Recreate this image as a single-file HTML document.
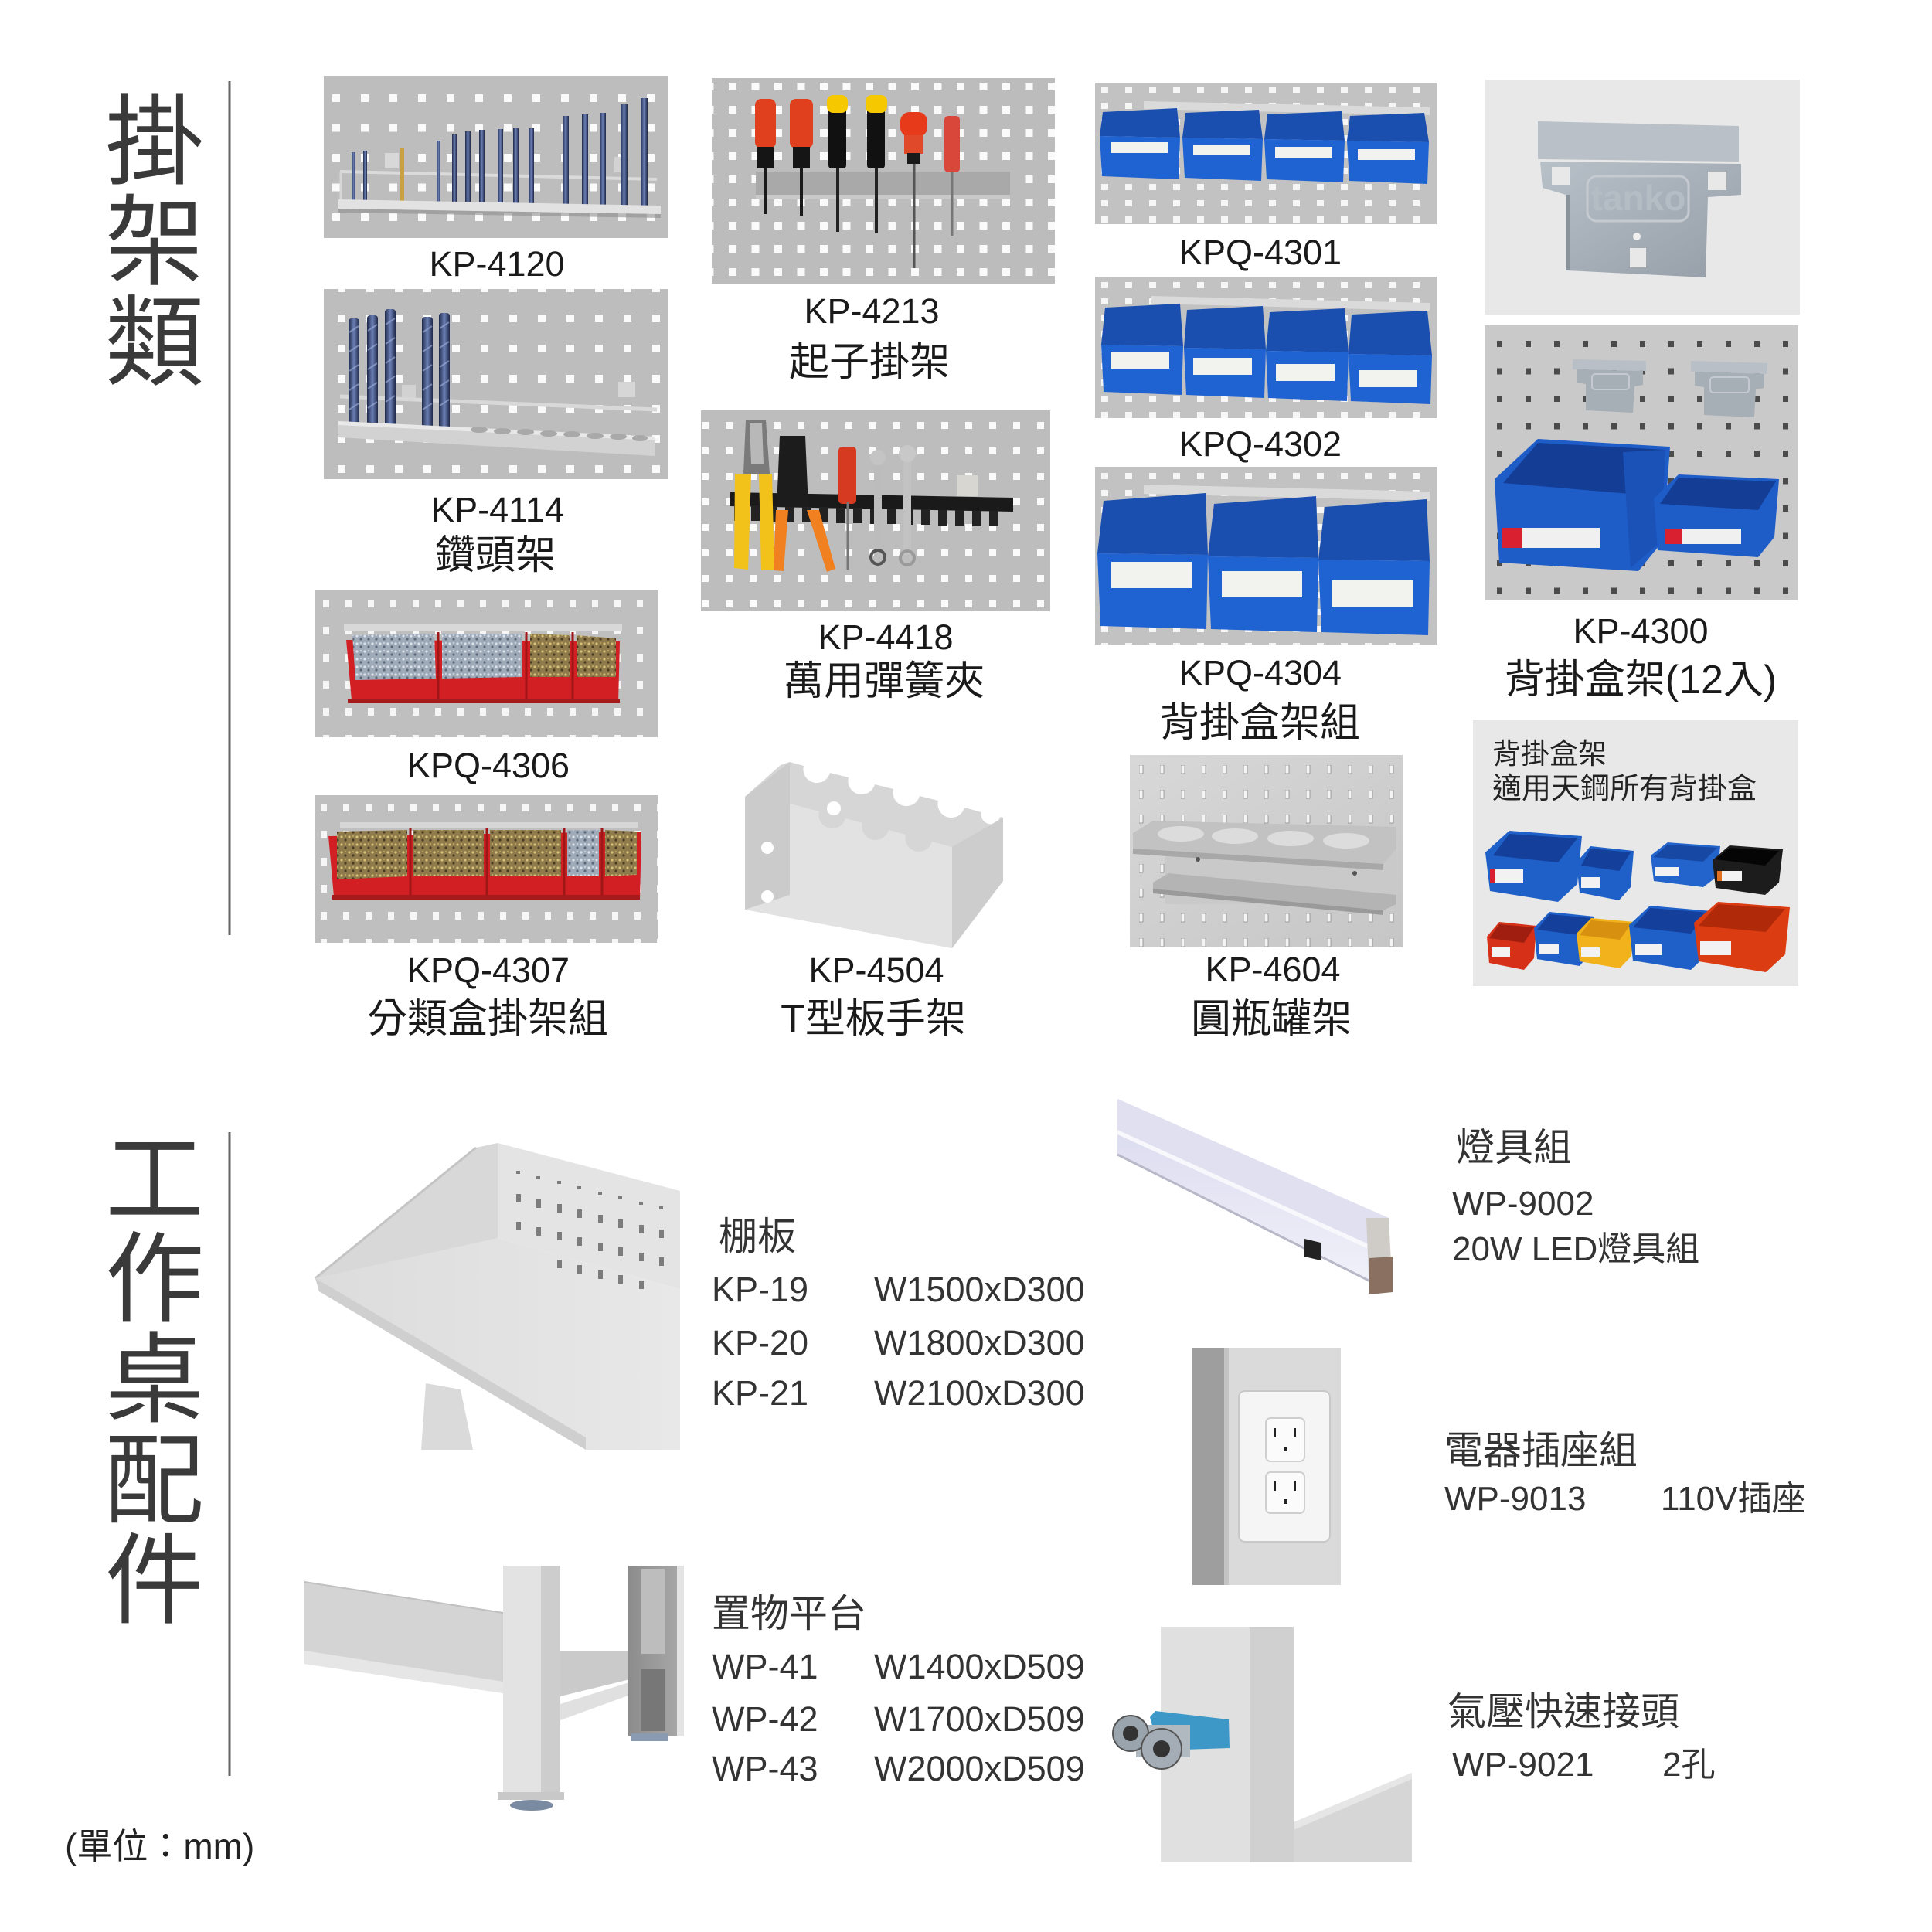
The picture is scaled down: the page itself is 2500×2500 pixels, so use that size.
<!DOCTYPE html>
<html><head><meta charset="utf-8"><style>
html,body{margin:0;padding:0;background:#fff;}
svg{display:block;}
text{font-family:"Liberation Sans","Noto Sans CJK TC",sans-serif;}
</style></head><body>
<svg xmlns="http://www.w3.org/2000/svg" width="2500" height="2500" viewBox="0 0 2500 2500">
<defs>
<pattern id="pA1" patternUnits="userSpaceOnUse" x="430" y="122" width="37" height="38.5"><rect width="10" height="10" fill="#fafafa"/></pattern>
<pattern id="pA2" patternUnits="userSpaceOnUse" x="437" y="407" width="37" height="39"><rect width="10" height="10" fill="#fafafa"/></pattern>
<pattern id="pB1" patternUnits="userSpaceOnUse" x="418" y="776" width="29" height="35"><rect width="8" height="10" fill="#f6f6f6"/></pattern>
<pattern id="pB2" patternUnits="userSpaceOnUse" x="415" y="1040" width="29" height="35"><rect width="8" height="10" fill="#f6f6f6"/></pattern>
<pattern id="pC" patternUnits="userSpaceOnUse" x="943" y="107" width="29.5" height="30"><rect width="10" height="10" fill="#fafafa"/></pattern>
<pattern id="pD" patternUnits="userSpaceOnUse" x="939" y="546" width="31" height="33"><rect width="9" height="9" fill="#fafafa"/></pattern>
<pattern id="pE1" patternUnits="userSpaceOnUse" x="1425" y="112" width="31" height="21"><rect width="9" height="8" fill="#f6f6f6"/></pattern>
<pattern id="pE2" patternUnits="userSpaceOnUse" x="1425" y="365" width="31" height="21"><rect width="9" height="8" fill="#f6f6f6"/></pattern>
<pattern id="pE3" patternUnits="userSpaceOnUse" x="1425" y="612" width="31" height="22"><rect width="9" height="8" fill="#f6f6f6"/></pattern>
<pattern id="pF" patternUnits="userSpaceOnUse" x="1937" y="441" width="37" height="35.5"><rect width="7" height="8" fill="#4b4b4b"/></pattern>
<pattern id="pG" patternUnits="userSpaceOnUse" x="1474" y="990" width="27" height="32"><rect width="5" height="11" fill="#f4f4f4" stroke="#8a8a8a" stroke-width="0.8"/></pattern>
<pattern id="silver" patternUnits="userSpaceOnUse" width="10" height="10"><rect width="10" height="10" fill="#9eaab8"/><circle cx="2" cy="3" r="1.6" fill="#dde3ea"/><circle cx="7" cy="7" r="1.6" fill="#5d6878"/><circle cx="7" cy="2" r="1.2" fill="#c8d0da"/></pattern>
<pattern id="gold" patternUnits="userSpaceOnUse" width="10" height="10"><rect width="10" height="10" fill="#8e7a4a"/><circle cx="2" cy="3" r="1.6" fill="#d6c27a"/><circle cx="7" cy="7" r="1.6" fill="#4a3b22"/><circle cx="7" cy="2" r="1.2" fill="#b8a060"/></pattern>
<linearGradient id="drill" x1="0" x2="1" y1="0" y2="0"><stop offset="0" stop-color="#1d2848"/><stop offset=".5" stop-color="#6c7fb5"/><stop offset="1" stop-color="#1d2848"/></linearGradient>
<linearGradient id="metal" x1="0" x2="1" y1="0" y2="1"><stop offset="0" stop-color="#b8c0c8"/><stop offset="1" stop-color="#959ea8"/></linearGradient>
<linearGradient id="g4604" x1="0" x2="1" y1="0" y2="1"><stop offset="0" stop-color="#d8d8d8"/><stop offset="1" stop-color="#c6c6c6"/></linearGradient>
<linearGradient id="shelfTop" x1="0" x2="1" y1="0" y2="0"><stop offset="0" stop-color="#dcdcdc"/><stop offset="1" stop-color="#e8e8e8"/></linearGradient>
<linearGradient id="led" x1="0" x2="0" y1="0" y2="1"><stop offset="0" stop-color="#d8d8ee"/><stop offset="1" stop-color="#f2f2fa"/></linearGradient>
<linearGradient id="darkpost" x1="0" x2="1" y1="0" y2="0"><stop offset="0" stop-color="#8c8c8c"/><stop offset="1" stop-color="#a8a8a8"/></linearGradient>
</defs>
<rect width="2500" height="2500" fill="#fff"/>

<!-- Titles -->
<g font-size="128" fill="#3a3a3a" text-anchor="middle">
<text x="200" y="228">掛</text>
<text x="200" y="358">架</text>
<text x="200" y="488">類</text>
<text x="200" y="1571">工</text>
<text x="200" y="1700">作</text>
<text x="200" y="1830">桌</text>
<text x="200" y="1960">配</text>
<text x="200" y="2090">件</text>
</g>
<line x1="297" y1="105" x2="297" y2="1210" stroke="#666" stroke-width="3"/>
<line x1="297" y1="1465" x2="297" y2="2298" stroke="#666" stroke-width="3"/>
<text x="84" y="2405" font-size="46" fill="#222">(單位：mm)</text>

<!-- KP-4120 -->
<rect x="419" y="98" width="445" height="210" fill="#bdbdbd"/>
<rect x="419" y="98" width="445" height="210" fill="url(#pA1)"/>
<rect x="498" y="198" width="18" height="20" fill="#d8d8d8"/>
<rect x="795" y="203" width="18" height="20" fill="#d2d2d2"/>
<line x1="440" y1="222" x2="850" y2="232" stroke="#dadada" stroke-width="4"/>
<line x1="441" y1="222" x2="441" y2="262" stroke="#d6d6d6" stroke-width="3"/>
<g fill="url(#drill)">
<rect x="455" y="197" width="5" height="66"/><rect x="470" y="195" width="5" height="68"/>
<rect x="518" y="192" width="5" height="71" fill="#c8a040"/>
<rect x="565" y="182" width="5" height="81"/><rect x="585" y="174" width="6" height="90"/>
<rect x="602" y="170" width="7" height="94"/><rect x="620" y="168" width="7" height="96"/>
<rect x="644" y="167" width="7" height="97"/><rect x="664" y="166" width="7" height="98"/>
<rect x="684" y="166" width="7" height="98"/><rect x="728" y="150" width="8" height="116"/>
<rect x="753" y="148" width="8" height="118"/><rect x="776" y="146" width="8" height="120"/>
<rect x="803" y="135" width="9" height="131"/><rect x="829" y="127" width="9" height="139"/>
</g>
<polygon points="438,258 855,266 855,277 438,270" fill="#e2e2e2"/>
<polygon points="438,270 855,277 855,282 438,275" fill="#8e8e8e" opacity="0.6"/>

<!-- KP-4114 -->
<rect x="419" y="374" width="445" height="246" fill="#bdbdbd"/>
<rect x="419" y="374" width="445" height="246" fill="url(#pA2)"/>
<rect x="800" y="494" width="22" height="20" fill="#d6d6d6"/>
<rect x="520" y="498" width="18" height="20" fill="#d2d2d2"/>
<line x1="440" y1="513" x2="850" y2="530" stroke="#d8d8d8" stroke-width="5"/>
<g fill="url(#drill)">
<rect x="451" y="412" width="14" height="143" rx="4"/><rect x="475" y="408" width="14" height="147" rx="4"/>
<rect x="498" y="400" width="14" height="155" rx="4"/><rect x="546" y="410" width="14" height="145" rx="4"/>
<rect x="568" y="405" width="14" height="150" rx="4"/>
</g>
<g stroke="#9fb2dc" stroke-width="2" opacity="0.6">
<path d="M452,430 l12,-8 M452,455 l12,-8 M452,480 l12,-8 M452,505 l12,-8 M452,530 l12,-8"/>
<path d="M476,428 l12,-8 M476,453 l12,-8 M476,478 l12,-8 M476,503 l12,-8 M476,528 l12,-8"/>
<path d="M499,420 l12,-8 M499,445 l12,-8 M499,470 l12,-8 M499,495 l12,-8 M499,520 l12,-8"/>
<path d="M547,430 l12,-8 M547,455 l12,-8 M547,480 l12,-8 M547,505 l12,-8 M547,530 l12,-8"/>
<path d="M569,425 l12,-8 M569,450 l12,-8 M569,475 l12,-8 M569,500 l12,-8 M569,525 l12,-8"/>
</g>
<polygon points="438,545 847,565 847,590 438,566" fill="#d2d2d2"/>
<polygon points="438,545 847,565 847,570 438,550" fill="#e8e8e8"/>
<g fill="#a9a9a9">
<ellipse cx="620" cy="556" rx="11" ry="4"/><ellipse cx="650" cy="558" rx="11" ry="4"/><ellipse cx="680" cy="559" rx="11" ry="4"/><ellipse cx="710" cy="561" rx="11" ry="4"/><ellipse cx="740" cy="562" rx="11" ry="4"/><ellipse cx="770" cy="564" rx="11" ry="4"/><ellipse cx="800" cy="565" rx="11" ry="4"/><ellipse cx="828" cy="567" rx="10" ry="4"/>
</g>

<!-- KPQ-4306 -->
<rect x="408" y="764" width="443" height="190" fill="#bfbfbf"/>
<rect x="408" y="764" width="443" height="190" fill="url(#pB1)"/>
<rect x="445" y="808" width="360" height="8" fill="#d8d8d8"/>
<polygon points="448,828 455,906 800,910 802,830" fill="#d21f24"/>
<polygon points="456,822 562,820 564,878 460,880" fill="url(#silver)"/>
<polygon points="572,820 676,820 676,876 572,878" fill="url(#silver)"/>
<polygon points="686,820 737,822 737,876 686,876" fill="url(#gold)"/>
<polygon points="746,822 797,826 797,876 746,876" fill="url(#gold)"/>
<g stroke="#9e1616" stroke-width="3"><line x1="567" y1="818" x2="567" y2="908"/><line x1="681" y1="818" x2="681" y2="908"/><line x1="741" y1="818" x2="741" y2="909"/></g>
<rect x="450" y="904" width="352" height="6" fill="#a51b1b"/>

<!-- KPQ-4307 -->
<rect x="408" y="1029" width="443" height="191" fill="#bfbfbf"/>
<rect x="408" y="1029" width="443" height="191" fill="url(#pB2)"/>
<rect x="440" y="1064" width="385" height="7" fill="#d6d6d6"/>
<polygon points="425,1082 432,1160 828,1164 830,1076" fill="#d21f24"/>
<polygon points="436,1076 527,1074 527,1134 436,1138" fill="url(#gold)"/>
<polygon points="535,1074 626,1074 626,1134 535,1134" fill="url(#gold)"/>
<polygon points="634,1074 726,1074 726,1134 634,1134" fill="url(#gold)"/>
<polygon points="734,1074 775,1074 775,1134 734,1134" fill="url(#silver)"/>
<polygon points="783,1074 824,1076 824,1132 783,1134" fill="url(#gold)"/>
<g stroke="#9e1616" stroke-width="3"><line x1="531" y1="1072" x2="531" y2="1162"/><line x1="630" y1="1072" x2="630" y2="1163"/><line x1="730" y1="1072" x2="730" y2="1163"/><line x1="779" y1="1072" x2="779" y2="1164"/></g>
<rect x="430" y="1158" width="398" height="6" fill="#a51b1b"/>

<!-- KP-4213 -->
<rect x="921" y="101" width="444" height="266" fill="#bcbcbc"/>
<rect x="921" y="101" width="444" height="266" fill="url(#pC)"/>
<rect x="978" y="222" width="329" height="32" fill="#a9a9a9"/>
<rect x="978" y="252" width="329" height="6" fill="#c9c9c9"/>
<g>
<line x1="990" y1="215" x2="990" y2="277" stroke="#1a1a1a" stroke-width="4"/>
<rect x="977" y="128" width="27" height="64" rx="8" fill="#e0401e"/>
<rect x="980" y="190" width="21" height="28" fill="#151515"/>
<line x1="1037" y1="215" x2="1037" y2="279" stroke="#1a1a1a" stroke-width="4"/>
<rect x="1022" y="128" width="30" height="64" rx="8" fill="#e0401e"/>
<rect x="1026" y="190" width="22" height="28" fill="#151515"/>
<line x1="1084" y1="215" x2="1084" y2="300" stroke="#222" stroke-width="4"/>
<rect x="1072" y="140" width="23" height="78" rx="4" fill="#111"/>
<rect x="1070" y="123" width="27" height="23" rx="8" fill="#f5c800"/>
<line x1="1134" y1="215" x2="1134" y2="302" stroke="#222" stroke-width="4"/>
<rect x="1122" y="140" width="23" height="78" rx="4" fill="#111"/>
<rect x="1120" y="123" width="28" height="23" rx="8" fill="#f5c800"/>
<line x1="1183" y1="210" x2="1183" y2="347" stroke="#555" stroke-width="3"/>
<rect x="1165" y="145" width="35" height="32" rx="12" fill="#e63a1a"/>
<rect x="1170" y="175" width="25" height="24" fill="#e04a2a"/>
<rect x="1174" y="198" width="17" height="14" fill="#1a1a1a"/>
<line x1="1232" y1="215" x2="1232" y2="305" stroke="#777" stroke-width="3"/>
<rect x="1222" y="150" width="20" height="73" rx="5" fill="#d9463a"/>
</g>

<!-- KP-4418 -->
<rect x="907" y="531" width="452" height="260" fill="#bdbdbd"/>
<rect x="907" y="531" width="452" height="260" fill="url(#pD)"/>
<rect x="1238" y="615" width="27" height="27" fill="#d8d6d0"/>
<polygon points="945,637 1311,644 1311,662 945,655" fill="#1a1a1a"/>
<g fill="#222">
<rect x="950" y="654" width="12" height="20"/><rect x="972" y="654" width="12" height="20"/><rect x="994" y="655" width="12" height="20"/><rect x="1016" y="655" width="12" height="20"/><rect x="1038" y="656" width="12" height="20"/><rect x="1060" y="656" width="12" height="20"/><rect x="1082" y="657" width="12" height="20"/><rect x="1104" y="657" width="12" height="20"/><rect x="1126" y="658" width="12" height="20"/><rect x="1148" y="658" width="12" height="20"/><rect x="1170" y="659" width="12" height="20"/><rect x="1192" y="659" width="12" height="20"/><rect x="1214" y="660" width="12" height="20"/><rect x="1236" y="660" width="12" height="20"/><rect x="1258" y="661" width="12" height="20"/><rect x="1280" y="661" width="12" height="20"/>
</g>
<polygon points="965,544 991,544 996,613 962,613" fill="#7a7a7a"/>
<polygon points="970,548 986,548 988,600 972,600" fill="#b8b8b8"/>
<polygon points="951,613 972,613 968,737 950,735" fill="#f2c21a"/>
<polygon points="982,613 999,613 1002,737 985,738" fill="#f2c21a"/>
<polygon points="1009,564 1042,564 1046,656 1005,656" fill="#1c1c1c"/>
<polygon points="1004,660 1020,660 1014,739 1001,738" fill="#f08020"/>
<polygon points="1044,660 1060,660 1081,736 1070,740" fill="#f08020"/>
<rect x="1085" y="578" width="23" height="74" rx="5" fill="#d63a20"/>
<line x1="1097" y1="650" x2="1097" y2="737" stroke="#777" stroke-width="3"/>
<rect x="1131" y="595" width="10" height="125" fill="#bcbcbc"/>
<circle cx="1136" cy="592" r="10" fill="#c4c4c4"/><circle cx="1136" cy="721" r="9" fill="none" stroke="#555" stroke-width="4"/>
<rect x="1169" y="588" width="10" height="130" fill="#c2c2c2"/>
<circle cx="1174" cy="587" r="11" fill="#c8c8c8"/><circle cx="1174" cy="722" r="9" fill="none" stroke="#9a9a9a" stroke-width="4"/>

<!-- KP-4504 -->
<path d="M964,1177 L964,1031 L1010,990 L1022,986 L1040,991 A17,17 0 0,0 1074,1000 L1098,1006 A17,17 0 0,0 1132,1015 L1156,1021 A17,17 0 0,0 1190,1030 L1214,1036 A17,17 0 0,0 1248,1045 L1270,1051 A12,12 0 0,0 1294,1057 L1298,1058 L1298,1140 L1232,1227 Z" fill="#d6d6d6"/>
<path d="M1022,1040 L1060,1050 A17,17 0 0,0 1094,1059 L1116,1065 A17,17 0 0,0 1150,1074 L1172,1080 A17,17 0 0,0 1206,1089 L1232,1096 L1232,1227 L964,1177 L1022,1158 Z" fill="#e2e2e2"/>
<polygon points="964,1031 1022,986 1022,1158 964,1177" fill="#cbcbcb"/>
<polygon points="1232,1096 1298,1058 1298,1140 1232,1227" fill="#cdcdcd"/>
<circle cx="1079" cy="1046" r="9" fill="#fff"/>
<circle cx="993" cy="1097" r="8" fill="#fff"/>
<circle cx="993" cy="1160" r="8" fill="#fff"/>

<!-- KPQ-4301 -->
<rect x="1417" y="107" width="442" height="183" fill="#c2c2c2"/>
<rect x="1417" y="107" width="442" height="183" fill="url(#pE1)"/>
<polygon points="1480,131 1850,139 1850,149 1480,141" fill="#dadada"/>
<g>
<polygon points="1427,145 1523,140 1527,178 1423,176" fill="#1a4fb0"/><polygon points="1423,176 1527,178 1525,232 1426,228" fill="#1f62d2"/><rect x="1437" y="184" width="74" height="14" fill="#f2f2ee"/>
<polygon points="1534,146 1629,142 1634,180 1530,178" fill="#1a4fb0"/><polygon points="1530,178 1634,180 1632,234 1533,230" fill="#1f62d2"/><rect x="1544" y="187" width="74" height="14" fill="#f2f2ee"/>
<polygon points="1640,148 1736,144 1740,182 1636,180" fill="#1a4fb0"/><polygon points="1636,180 1740,182 1738,236 1639,232" fill="#1f62d2"/><rect x="1650" y="190" width="74" height="14" fill="#f2f2ee"/>
<polygon points="1747,150 1843,146 1849,184 1743,182" fill="#1a4fb0"/><polygon points="1743,182 1849,184 1847,238 1746,234" fill="#1f62d2"/><rect x="1757" y="193" width="74" height="14" fill="#f2f2ee"/>
</g>

<!-- KPQ-4302 -->
<rect x="1417" y="358" width="442" height="183" fill="#c2c2c2"/>
<rect x="1417" y="358" width="442" height="183" fill="url(#pE2)"/>
<polygon points="1490,383 1850,392 1850,402 1490,393" fill="#dadada"/>
<g>
<polygon points="1430,398 1527,393 1531,448 1425,446" fill="#1a4fb0"/><polygon points="1425,446 1531,448 1529,511 1428,507" fill="#1f62d2"/><rect x="1437" y="455" width="76" height="22" fill="#f2f2ee"/>
<polygon points="1536,401 1634,396 1638,452 1532,450" fill="#1a4fb0"/><polygon points="1532,450 1638,452 1636,515 1535,511" fill="#1f62d2"/><rect x="1544" y="463" width="76" height="22" fill="#f2f2ee"/>
<polygon points="1643,404 1740,399 1745,456 1638,454" fill="#1a4fb0"/><polygon points="1638,454 1745,456 1743,519 1641,515" fill="#1f62d2"/><rect x="1651" y="471" width="76" height="22" fill="#f2f2ee"/>
<polygon points="1749,407 1847,402 1853,460 1745,458" fill="#1a4fb0"/><polygon points="1745,458 1853,460 1851,523 1748,519" fill="#1f62d2"/><rect x="1758" y="479" width="76" height="22" fill="#f2f2ee"/>
</g>

<!-- KPQ-4304 -->
<rect x="1417" y="604" width="442" height="230" fill="#c2c2c2"/>
<rect x="1417" y="604" width="442" height="230" fill="url(#pE3)"/>
<polygon points="1480,627 1850,636 1850,648 1480,639" fill="#dadada"/>
<g>
<polygon points="1428,648 1560,638 1563,718 1420,716" fill="#1a4fb0"/><polygon points="1420,716 1563,718 1561,814 1424,810" fill="#1f62d2"/><rect x="1438" y="727" width="104" height="34" fill="#f2f2ee"/>
<polygon points="1571,652 1703,642 1706,722 1563,720" fill="#1a4fb0"/><polygon points="1563,720 1706,722 1704,818 1567,814" fill="#1f62d2"/><rect x="1581" y="739" width="104" height="34" fill="#f2f2ee"/>
<polygon points="1714,656 1846,646 1850,726 1706,724" fill="#1a4fb0"/><polygon points="1706,724 1850,726 1848,822 1710,818" fill="#1f62d2"/><rect x="1724" y="751" width="104" height="34" fill="#f2f2ee"/>
</g>

<!-- KP-4604 -->
<rect x="1462" y="977" width="353" height="249" fill="url(#g4604)"/>
<rect x="1462" y="977" width="353" height="249" fill="url(#pG)"/>
<rect x="1508" y="1098" width="299" height="72" fill="#c9c9c9"/>
<polygon points="1466,1078 1492,1062 1807,1070 1807,1098 1790,1118 1466,1098" fill="#c2c2c2"/>
<g fill="#dcdcdc"><ellipse cx="1528" cy="1079" rx="30" ry="10"/><ellipse cx="1598" cy="1082" rx="30" ry="10"/><ellipse cx="1670" cy="1085" rx="30" ry="10"/><ellipse cx="1742" cy="1088" rx="30" ry="10"/></g>
<polygon points="1466,1098 1790,1118 1790,1126 1466,1105" fill="#a8a8a8"/>
<polygon points="1492,1142 1512,1130 1807,1158 1807,1170 1790,1178 1492,1150" fill="#b4b4b4"/>
<polygon points="1492,1150 1790,1178 1790,1184 1492,1156" fill="#9a9a9a"/>
<circle cx="1550" cy="1112" r="3" fill="#555"/><circle cx="1753" cy="1130" r="3" fill="#555"/>

<!-- Clip -->
<rect x="1921" y="103" width="408" height="304" fill="#e8e8e8"/>
<polygon points="1993,209 2253,212 2253,252 2210,255 2207,359 2026,350 2026,252 1996,243" fill="url(#metal)"/>
<polygon points="1990,157 2250,163 2250,209 1990,206" fill="#b9c0c7"/>
<rect x="2008" y="216" width="23" height="24" fill="#e8e8e8"/>
<rect x="2210" y="222" width="24" height="24" fill="#e8e8e8"/>
<rect x="2026" y="252" width="6" height="98" fill="#8a929a"/>
<rect x="2054" y="228" width="131" height="58" rx="12" fill="none" stroke="#c4cad0" stroke-width="3"/>
<text x="2120" y="272" font-size="46" font-weight="bold" fill="#b4bcc4" text-anchor="middle">tanko</text>
<circle cx="2118" cy="306" r="5" fill="#f0f0f0"/>
<rect x="2109" y="321" width="21" height="25" fill="#e8e8e8"/>

<!-- KP-4300 -->
<rect x="1921" y="421" width="406" height="356" fill="#c9c9c9"/>
<rect x="1921" y="421" width="406" height="356" fill="url(#pF)"/>
<polygon points="2035,465 2130,467 2130,480 2035,478" fill="#b8bfc6"/>
<polygon points="2040,478 2126,480 2126,498 2115,500 2113,534 2052,531 2052,497 2040,495" fill="#a6aeb6"/>
<rect x="2060" y="484" width="48" height="20" rx="4" fill="none" stroke="#c4cad0" stroke-width="2"/>
<polygon points="2188,467 2287,470 2287,484 2188,481" fill="#b8bfc6"/>
<polygon points="2193,481 2283,484 2283,502 2272,504 2270,540 2205,537 2205,501 2193,499" fill="#a6aeb6"/>
<rect x="2213" y="488" width="50" height="20" rx="4" fill="none" stroke="#c4cad0" stroke-width="2"/>
<polygon points="1934,620 1990,568 2161,578 2152,700 2120,739 1940,728" fill="#1e5cc8"/>
<polygon points="1990,573 2155,582 2120,640 1945,625" fill="#143e96"/>
<polygon points="2100,585 2155,582 2150,700 2110,735" fill="#1a52b8"/>
<rect x="1944" y="683" width="26" height="26" fill="#d82030"/>
<rect x="1970" y="683" width="100" height="26" fill="#f0f0f0"/>
<polygon points="2140,645 2172,614 2302,620 2296,695 2275,721 2145,712" fill="#1e5cc8"/>
<polygon points="2172,618 2298,623 2275,660 2148,652" fill="#143e96"/>
<rect x="2155" y="684" width="22" height="20" fill="#d82030"/>
<rect x="2177" y="684" width="76" height="20" fill="#f0f0f0"/>

<!-- Info box -->
<rect x="1906" y="932" width="421" height="344" fill="#e8e8e8"/>
<text x="1931" y="988" font-size="37" fill="#222">背掛盒架</text>
<text x="1931" y="1033" font-size="38" fill="#222">適用天鋼所有背掛盒</text>
<g>
<polygon points="1922,1103 1953,1075 2047,1082 2041,1144 2016,1167 1928,1153" fill="#1f5fc8"/>
<polygon points="1953,1079 2041,1085 2016,1116 1932,1107" fill="#143f9a"/>
<rect x="1928" y="1125" width="7" height="18" fill="#d82030"/><rect x="1935" y="1125" width="36" height="18" fill="#f2f2f2"/>
<polygon points="2040,1116 2058,1095 2114,1101 2110,1148 2095,1165 2044,1155" fill="#1f5fc8"/>
<polygon points="2058,1098 2110,1103 2095,1127 2046,1120" fill="#143f9a"/>
<rect x="2046" y="1135" width="24" height="14" fill="#f2f2f2"/>
<polygon points="2136,1107 2158,1090 2226,1095 2222,1134 2204,1148 2140,1140" fill="#2264cc"/>
<polygon points="2158,1093 2222,1097 2204,1115 2140,1109" fill="#1648a4"/>
<rect x="2142" y="1122" width="30" height="12" fill="#f2f2f2"/>
<polygon points="2216,1113 2238,1094 2307,1099 2302,1142 2284,1158 2220,1149" fill="#1c1c1c"/>
<polygon points="2238,1097 2302,1101 2284,1120 2220,1112" fill="#050505"/>
<rect x="2222" y="1127" width="6" height="13" fill="#e07020"/><rect x="2228" y="1127" width="26" height="13" fill="#f2f2f2"/>
<polygon points="1924,1212 1940,1193 1988,1198 1985,1240 1972,1255 1927,1246" fill="#d63018"/>
<polygon points="1940,1196 1985,1200 1972,1220 1927,1214" fill="#a01e10"/>
<rect x="1930" y="1226" width="24" height="12" fill="#f2f2f2"/>
<polygon points="1985,1201 2005,1180 2063,1186 2059,1232 2044,1250 1989,1241" fill="#1f5fc8"/>
<polygon points="2005,1183 2059,1188 2044,1210 1989,1203" fill="#143f9a"/>
<rect x="1991" y="1222" width="26" height="12" fill="#f2f2f2"/>
<polygon points="2040,1208 2059,1188 2115,1193 2111,1237 2096,1253 2044,1244" fill="#f2b21c"/>
<polygon points="2059,1191 2111,1195 2096,1216 2044,1210" fill="#d89010"/>
<rect x="2046" y="1226" width="24" height="12" fill="#f2f2f2"/>
<polygon points="2108,1197 2135,1172 2215,1179 2210,1234 2188,1255 2113,1243" fill="#1f5fc8"/>
<polygon points="2135,1175 2210,1181 2188,1208 2113,1200" fill="#143f9a"/>
<rect x="2116" y="1222" width="34" height="14" fill="#f2f2f2"/>
<polygon points="2192,1194 2223,1167 2316,1174 2310,1235 2285,1258 2198,1244" fill="#dc3c12"/>
<polygon points="2223,1170 2310,1176 2285,1206 2198,1198" fill="#b02a0a"/>
<rect x="2200" y="1218" width="40" height="18" fill="#f2f2f2"/>
</g>

<!-- Section 1 labels -->
<g font-size="45" fill="#1a1a1a" text-anchor="middle">
<text x="643" y="357">KP-4120</text>
<text x="644" y="675">KP-4114</text>
<text x="632" y="1006">KPQ-4306</text>
<text x="632" y="1271">KPQ-4307</text>
<text x="1128" y="418">KP-4213</text>
<text x="1146" y="840">KP-4418</text>
<text x="1134" y="1271">KP-4504</text>
<text x="1631" y="342">KPQ-4301</text>
<text x="1631" y="590">KPQ-4302</text>
<text x="1631" y="886">KPQ-4304</text>
<text x="1647" y="1270">KP-4604</text>
<text x="2123" y="832">KP-4300</text>
</g>
<g font-size="52" fill="#1a1a1a" text-anchor="middle">
<text x="641" y="736">鑽頭架</text>
<text x="631" y="1336">分類盒掛架組</text>
<text x="1125" y="486">起子掛架</text>
<text x="1144" y="899">萬用彈簧夾</text>
<text x="1130" y="1336">T型板手架</text>
<text x="1630" y="953">背掛盒架組</text>
<text x="1645" y="1336">圓瓶罐架</text>
<text x="2123" y="897">背掛盒架(12入)</text>
</g>

<!-- Shelf image -->
<polygon points="644,1479 880,1541 880,1668 644,1602" fill="#e4e4e4"/>
<polygon points="616,1485 644,1479 644,1602 413,1658 408,1654" fill="#d8d8d8"/>
<line x1="616" y1="1485" x2="408" y2="1654" stroke="#c4c4c4" stroke-width="3"/>
<polygon points="408,1654 644,1602 880,1668 880,1876 758,1876 413,1671" fill="url(#shelfTop)"/>
<polygon points="408,1654 758,1860 758,1876 413,1671" fill="#cfcfcf"/>
<polygon points="551,1790 596,1798 612,1876 545,1876" fill="#dadada"/>
<g fill="#7c7c7c">
<rect x="668" y="1515" width="5" height="4"/><rect x="694" y="1522" width="5" height="4"/><rect x="721" y="1528" width="5" height="4"/><rect x="747" y="1535" width="5" height="4"/><rect x="774" y="1542" width="5" height="4"/><rect x="800" y="1548" width="5" height="4"/><rect x="827" y="1555" width="5" height="4"/><rect x="853" y="1561" width="5" height="4"/>
<rect x="668" y="1545" width="6" height="11"/><rect x="694" y="1552" width="6" height="11"/><rect x="721" y="1558" width="6" height="11"/><rect x="747" y="1565" width="6" height="11"/><rect x="774" y="1572" width="6" height="11"/><rect x="800" y="1578" width="6" height="11"/><rect x="827" y="1585" width="6" height="11"/><rect x="853" y="1591" width="6" height="11"/>
<rect x="668" y="1581" width="6" height="11"/><rect x="694" y="1588" width="6" height="11"/><rect x="721" y="1594" width="6" height="11"/><rect x="747" y="1601" width="6" height="11"/><rect x="774" y="1608" width="6" height="11"/><rect x="800" y="1614" width="6" height="11"/><rect x="827" y="1621" width="6" height="11"/><rect x="853" y="1627" width="6" height="11"/>
<rect x="721" y="1630" width="6" height="11"/><rect x="747" y="1637" width="6" height="11"/><rect x="774" y="1644" width="6" height="11"/><rect x="800" y="1650" width="6" height="11"/><rect x="827" y="1657" width="6" height="11"/>
</g>

<!-- Platform image -->
<polygon points="394,2047 651,2087 651,2191 394,2153" fill="#d4d4d4"/>
<polygon points="394,2136 651,2176 651,2191 394,2153" fill="#e6e6e6"/>
<line x1="394" y1="2047" x2="651" y2="2087" stroke="#c0c0c0" stroke-width="2"/>
<polygon points="725,2136 864,2136 868,2160 725,2195" fill="#cacaca"/>
<polygon points="725,2205 868,2160 868,2174 725,2226" fill="#e0e0e0"/>
<rect x="813" y="2026" width="67" height="220" fill="url(#darkpost)"/>
<rect x="830" y="2030" width="30" height="110" fill="#bdbdbd"/>
<rect x="830" y="2160" width="30" height="80" fill="#777"/>
<rect x="876" y="2026" width="9" height="220" fill="#e4e4e4"/>
<rect x="816" y="2243" width="48" height="10" fill="#8a9ab0"/>
<rect x="651" y="2026" width="49" height="300" fill="#e3e3e3"/>
<rect x="700" y="2026" width="25" height="300" fill="#cdcdcd"/>
<rect x="644" y="2319" width="86" height="10" fill="#c8c8c8"/>
<ellipse cx="688" cy="2336" rx="28" ry="7" fill="#7a8aa0"/>

<!-- Section 2 text -->
<g fill="#333">
<text x="930" y="1617" font-size="50">棚板</text>
<g font-size="45">
<text x="921" y="1684">KP-19</text><text x="1131" y="1684">W1500xD300</text>
<text x="921" y="1753">KP-20</text><text x="1131" y="1753">W1800xD300</text>
<text x="921" y="1818">KP-21</text><text x="1131" y="1818">W2100xD300</text>
</g>
<text x="921" y="2105" font-size="50">置物平台</text>
<g font-size="45">
<text x="921" y="2172">WP-41</text><text x="1131" y="2172">W1400xD509</text>
<text x="921" y="2240">WP-42</text><text x="1131" y="2240">W1700xD509</text>
<text x="921" y="2304">WP-43</text><text x="1131" y="2304">W2000xD509</text>
</g>
<text x="1884" y="1502" font-size="50">燈具組</text>
<text x="1879" y="1572" font-size="44">WP-9002</text>
<text x="1879" y="1631" font-size="44">20W LED燈具組</text>
<text x="1869" y="1894" font-size="50">電器插座組</text>
<text x="1869" y="1954" font-size="44">WP-9013</text>
<text x="2149" y="1954" font-size="44">110V插座</text>
<text x="1873" y="2232" font-size="50">氣壓快速接頭</text>
<text x="1879" y="2298" font-size="44">WP-9021</text>
<text x="2151" y="2298" font-size="44">2孔</text>
</g>

<!-- LED -->
<polygon points="1446,1422 1797,1576 1797,1670 1446,1494" fill="url(#led)"/>
<polygon points="1446,1422 1797,1576 1797,1622 1446,1462" fill="#e0e0f0"/>
<polygon points="1446,1462 1797,1622 1797,1628 1446,1468" fill="#f8f8fc"/>
<line x1="1446" y1="1494" x2="1797" y2="1670" stroke="#b8b8c8" stroke-width="3"/>
<polygon points="1768,1576 1797,1576 1802,1672 1772,1675" fill="#cfcbc6"/>
<polygon points="1772,1628 1802,1626 1802,1672 1772,1675" fill="#8a7060"/>
<polygon points="1688,1603 1709,1608 1709,1631 1688,1626" fill="#222"/>

<!-- Socket -->
<rect x="1543" y="1744" width="192" height="307" fill="#dadada"/>
<rect x="1543" y="1744" width="41" height="307" fill="#9e9e9e"/>
<rect x="1584" y="1744" width="6" height="307" fill="#c4c4c4"/>
<rect x="1603" y="1800" width="118" height="195" rx="8" fill="#f5f5f5" stroke="#c8c8c8" stroke-width="2"/>
<rect x="1638" y="1835" width="50" height="56" rx="6" fill="#fbfbfb" stroke="#cfcfcf" stroke-width="2"/>
<rect x="1638" y="1905" width="50" height="53" rx="6" fill="#fbfbfb" stroke="#cfcfcf" stroke-width="2"/>
<g fill="#222">
<rect x="1648" y="1848" width="3" height="12"/><rect x="1674" y="1848" width="3" height="12"/><rect x="1661" y="1872" width="5" height="6"/>
<rect x="1648" y="1917" width="3" height="12"/><rect x="1674" y="1917" width="3" height="12"/><rect x="1661" y="1940" width="5" height="6"/>
</g>

<!-- Air coupler -->
<rect x="1502" y="2105" width="115" height="305" fill="#e0e0e0"/>
<rect x="1617" y="2105" width="57" height="305" fill="#d0d0d0"/>
<polygon points="1674,2358 1827,2294 1827,2410 1674,2410" fill="#d6d6d6"/>
<polygon points="1674,2358 1827,2294 1827,2302 1674,2368" fill="#e6e6e6"/>
<polygon points="1488,2222 1495,2214 1590,2225 1591,2262 1500,2265" fill="#3d98c8"/>
<rect x="1470" y="2232" width="70" height="42" fill="#b0b8c0"/>
<circle cx="1463" cy="2243" r="23" fill="#9aa4ad" stroke="#555" stroke-width="2"/>
<circle cx="1463" cy="2243" r="10" fill="#333"/>
<circle cx="1503" cy="2263" r="26" fill="#a4adb6" stroke="#555" stroke-width="2"/>
<circle cx="1503" cy="2263" r="11" fill="#333"/>
</svg>
</body></html>
